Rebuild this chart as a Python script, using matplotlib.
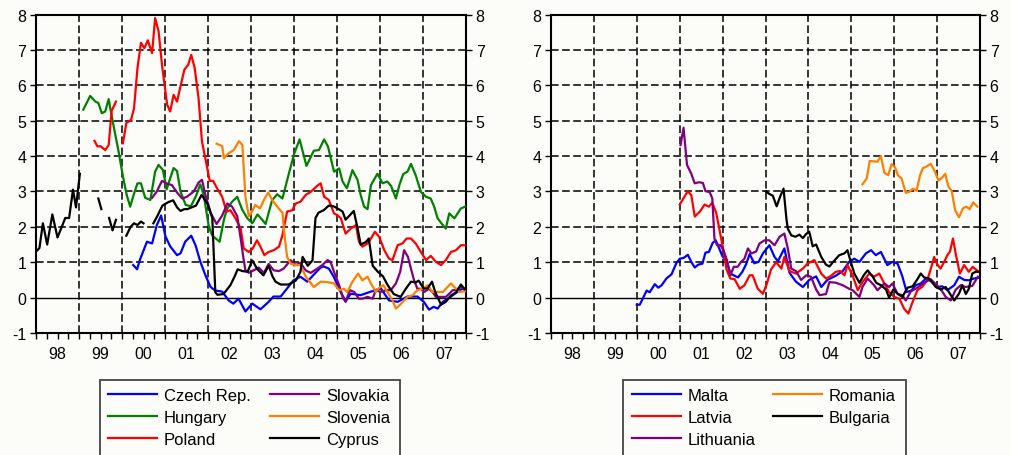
import numpy as np
import matplotlib
matplotlib.use('Agg')
import matplotlib.pyplot as plt
from matplotlib.lines import Line2D
from matplotlib.patches import Rectangle

plt.rcParams['font.family'] = ['Liberation Sans', 'DejaVu Sans']
plt.rcParams['lines.scale_dashes'] = False
plt.rcParams['axes.unicode_minus'] = False

nan = np.nan

# ---------------- left panel data ----------------
czech_x = [2000.26, 2000.35, 2000.42, 2000.50, 2000.58, 2000.70, 2000.81, 2000.91, 2001.01, 2001.12,
           2001.28, 2001.36, 2001.47, 2001.61, 2001.71, 2001.82, 2001.94, 2002.06, 2002.17, 2002.33,
           2002.48, 2002.59, 2002.71, 2002.87, 2003.03, 2003.22, 2003.41, 2003.52, 2003.69, 2003.84,
           2003.99, 2004.15, 2004.31, 2004.46, 2004.62, 2004.69, 2004.81, 2004.92, 2005.08, 2005.20,
           2005.32, 2005.55, 2005.79, 2006.02, 2006.21, 2006.41, 2006.64, 2006.87, 2007.02, 2007.14,
           2007.25, 2007.34, 2007.46, 2007.65, 2007.81, 2007.92, 2008.00]
czech_y = [0.92, 0.80, 1.08, 1.33, 1.58, 1.53, 2.05, 2.32, 1.73, 1.45,
           1.20, 1.25, 1.58, 1.75, 1.48, 1.02, 0.63, 0.30, 0.20, 0.17,
           -0.08, -0.17, -0.03, -0.39, -0.17, -0.33, -0.12, 0.03, 0.03, 0.26,
           0.49, 0.59, 0.45, 0.65, 0.85, 0.88, 0.82, 0.60, 0.17, -0.10,
           0.11, 0.07, 0.17, 0.26, -0.08, -0.12, 0.03, 0.03, -0.12, -0.34,
           -0.26, -0.31, -0.12, 0.03, 0.17, 0.26, 0.18]

hungary_x = [1999.10, 1999.26, 1999.38, 1999.45, 1999.53, 1999.61, 1999.69, 1999.75, 1999.80, 1999.92,
             2000.03, 2000.11, 2000.19, 2000.27, 2000.36, 2000.44, 2000.54, 2000.66, 2000.77, 2000.85,
             2000.95, 2001.04, 2001.12, 2001.20, 2001.28, 2001.36, 2001.48, 2001.60, 2001.72, 2001.82,
             2001.90, 2002.02, 2002.10, 2002.27, 2002.37, 2002.44, 2002.56, 2002.68, 2002.79, 2002.91,
             2003.03, 2003.15, 2003.26, 2003.34, 2003.49, 2003.61, 2003.73, 2003.88, 2004.00, 2004.13,
             2004.29, 2004.46, 2004.58, 2004.70, 2004.79, 2004.93, 2005.05, 2005.13, 2005.23, 2005.36,
             2005.48, 2005.55, 2005.63, 2005.71, 2005.79, 2005.94, 2006.06, 2006.17, 2006.26, 2006.37,
             2006.45, 2006.54, 2006.64, 2006.72, 2006.83, 2006.95, 2007.07, 2007.18, 2007.26, 2007.34,
             2007.46, 2007.53, 2007.61, 2007.73, 2007.88, 2007.98]
hungary_y = [5.31, 5.70, 5.54, 5.50, 5.21, 5.26, 5.61, 5.20, 4.88, 4.13,
             3.37, 2.90, 2.57, 2.90, 3.23, 3.23, 2.82, 2.76, 3.56, 3.75,
             3.61, 3.06, 3.37, 3.66, 3.58, 3.00, 2.62, 2.58, 2.87, 3.20,
             2.90, 2.00, 1.75, 1.58, 2.20, 2.50, 2.71, 2.85, 2.50, 2.25,
             2.10, 2.35, 2.20, 2.08, 2.75, 2.92, 2.80, 3.50, 4.05, 4.47,
             3.72, 4.15, 4.17, 4.47, 4.27, 3.56, 3.65, 3.28, 3.09, 3.60,
             3.32, 2.90, 2.57, 2.50, 3.18, 3.50, 3.23, 3.28, 3.15, 2.80,
             3.18, 3.49, 3.56, 3.78, 3.46, 2.99, 2.85, 2.80, 2.57, 2.24,
             2.05, 1.95, 2.38, 2.24, 2.52, 2.57]

poland_x = [1999.36, 1999.43, 1999.50, 1999.61, 1999.69, 1999.76, 1999.86, 1999.94,
            2000.02, 2000.10, 2000.21, 2000.28, 2000.36, 2000.44, 2000.52, 2000.60, 2000.70, 2000.77,
            2000.85, 2000.93, 2001.05, 2001.12, 2001.20, 2001.28, 2001.36, 2001.45, 2001.54, 2001.61,
            2001.69, 2001.78, 2001.86, 2001.96, 2002.04, 2002.12, 2002.21, 2002.33, 2002.43, 2002.52,
            2002.64, 2002.76, 2002.83, 2002.95, 2003.03, 2003.14, 2003.22, 2003.31, 2003.41, 2003.53,
            2003.65, 2003.73, 2003.84, 2003.96, 2004.04, 2004.15, 2004.27, 2004.39, 2004.54, 2004.62,
            2004.70, 2004.81, 2004.93, 2005.01, 2005.09, 2005.20, 2005.32, 2005.44, 2005.51, 2005.59,
            2005.71, 2005.79, 2005.88, 2005.98, 2006.10, 2006.21, 2006.29, 2006.41, 2006.52, 2006.62,
            2006.72, 2006.83, 2006.95, 2007.07, 2007.18, 2007.30, 2007.42, 2007.53, 2007.65, 2007.77,
            2007.88, 2007.98]
poland_y = [4.43, 4.27, 4.28, 4.17, 4.31, 5.28, 5.54, nan,
            4.36, 4.93, 5.02, 5.35, 6.49, 7.20, 7.05, 7.27, 6.91, 7.90,
            7.53, 6.58, 5.45, 5.26, 5.73, 5.54, 5.97, 6.44, 6.58, 6.86,
            6.49, 5.64, 4.41, 3.80, 3.30, 3.30, 3.09, 2.85, 2.43, 2.47,
            2.24, 1.95, 1.39, 1.29, 1.37, 1.62, 1.44, 1.20, 1.29, 1.34,
            1.44, 1.76, 2.43, 2.47, 2.66, 2.71, 2.90, 2.99, 3.16, 3.23,
            2.85, 2.76, 2.38, 2.33, 2.24, 1.81, 1.95, 2.05, 1.58, 1.44,
            1.53, 1.67, 1.86, 1.72, 1.34, 1.10, 1.06, 1.48, 1.53, 1.67,
            1.67, 1.53, 1.29, 1.06, 1.18, 1.01, 0.92, 1.06, 1.29, 1.34,
            1.48, 1.48]

slovakia_x = [2000.70, 2000.81, 2000.93, 2001.05, 2001.16, 2001.28, 2001.40, 2001.51, 2001.67, 2001.78,
              2001.86, 2001.94, 2002.06, 2002.20, 2002.33, 2002.45, 2002.56, 2002.68, 2002.76, 2002.82,
              2002.87, 2002.95, 2003.06, 2003.18, 2003.30, 2003.41, 2003.53, 2003.65, 2003.76, 2003.92,
              2004.04, 2004.15, 2004.27, 2004.39, 2004.54, 2004.66, 2004.78, 2004.85, 2004.93, 2005.05,
              2005.13, 2005.20, 2005.30, 2005.40, 2005.51, 2005.59, 2005.71, 2005.83, 2005.90, 2006.02,
              2006.14, 2006.25, 2006.37, 2006.47, 2006.56, 2006.65, 2006.72, 2006.79, 2006.87, 2006.95,
              2007.03, 2007.14, 2007.22, 2007.30, 2007.42, 2007.53, 2007.61, 2007.69, 2007.77, 2007.87,
              2007.96]
slovakia_y = [2.82, 3.00, 3.30, 3.22, 3.18, 2.97, 2.80, 2.85, 3.00, 3.25,
              3.33, 2.90, 2.40, 2.08, 2.32, 2.66, 2.57, 2.30, 1.67, 1.15,
              0.77, 0.70, 0.77, 0.85, 0.70, 0.95, 0.77, 0.75, 0.82, 1.06,
              0.92, 0.98, 0.77, 0.70, 0.82, 0.92, 1.06, 1.01, 0.73, 0.35,
              0.02, -0.12, 0.21, 0.16, -0.03, -0.03, 0.02, -0.03, 0.21, 0.16,
              0.21, 0.21, 0.40, 0.73, 1.34, 1.15, 0.82, 0.50, 0.25, 0.25,
              0.16, 0.25, 0.16, 0.02, 0.02, 0.02, 0.11, 0.21, 0.21, 0.30,
              0.25]

slovenia_x = [2002.20, 2002.33, 2002.37, 2002.48, 2002.60, 2002.72, 2002.80, 2002.87, 2002.95, 2003.03,
              2003.10, 2003.21, 2003.30, 2003.40, 2003.49, 2003.61, 2003.73, 2003.78, 2003.84, 2003.92,
              2004.04, 2004.15, 2004.27, 2004.46, 2004.62, 2004.78, 2004.93, 2005.05, 2005.16, 2005.24,
              2005.36, 2005.49, 2005.59, 2005.71, 2005.79, 2005.90, 2006.00, 2006.08, 2006.17, 2006.29,
              2006.37, 2006.45, 2006.56, 2006.64, 2006.76, 2006.87, 2006.99, 2007.11, 2007.22, 2007.34,
              2007.46, 2007.65, 2007.73, 2007.84, 2008.00]
slovenia_y = [4.35, 4.28, 3.94, 4.08, 4.17, 4.42, 4.31, 2.85, 2.30, 2.45,
              2.62, 2.52, 2.76, 2.97, 2.76, 2.57, 2.40, 1.76, 1.15, 0.96,
              0.92, 0.92, 0.60, 0.30, 0.45, 0.44, 0.40, 0.21, 0.25, 0.16,
              0.45, 0.68, 0.49, 0.59, 0.40, 0.16, 0.30, 0.35, 0.16, -0.08,
              -0.31, -0.22, -0.08, 0.02, 0.07, 0.21, 0.25, 0.35, 0.16, 0.16,
              0.16, 0.40, 0.30, 0.16, 0.18]

cyprus_x = [1998.00, 1998.08, 1998.16, 1998.26, 1998.38, 1998.50, 1998.60, 1998.68, 1998.77, 1998.86,
            1998.93, 1999.02, 1999.20, 1999.45, 1999.52, 1999.60, 1999.70, 1999.78, 1999.86, 2000.00,
            2000.10, 2000.20, 2000.28, 2000.36, 2000.44, 2000.50, 2000.60,
            2000.73, 2000.82, 2000.94, 2001.08, 2001.19, 2001.28, 2001.36, 2001.45, 2001.52, 2001.62,
            2001.72, 2001.85, 2001.99, 2002.10, 2002.17, 2002.22, 2002.36, 2002.52, 2002.62, 2002.69,
            2002.80, 2002.92, 2003.03, 2003.15, 2003.29, 2003.41, 2003.50, 2003.57, 2003.69, 2003.87,
            2004.04, 2004.15, 2004.20, 2004.32, 2004.43, 2004.50, 2004.57, 2004.69, 2004.81, 2004.92,
            2005.04, 2005.13, 2005.20, 2005.30, 2005.39, 2005.48, 2005.55, 2005.67, 2005.74, 2005.83,
            2005.95, 2006.07, 2006.18, 2006.32, 2006.48, 2006.60, 2006.72, 2006.83, 2006.90, 2007.02,
            2007.11, 2007.21, 2007.28, 2007.42, 2007.53, 2007.65, 2007.77, 2007.88, 2007.97]
cyprus_y = [1.30, 1.40, 2.10, 1.50, 2.35, 1.70, 2.00, 2.25, 2.25, 3.05,
            2.55, 3.50, nan, 2.80, 2.50, nan, 2.25, 1.90, 2.20, nan,
            1.75, 2.00, 2.10, 2.05, 2.15, 2.10, nan,
            2.10, 2.30, 2.60, 2.70, 2.75, 2.55, 2.45, 2.50, 2.50, 2.55,
            2.60, 2.90, 2.65, 2.25, 0.15, 0.08, 0.10, 0.35, 0.60, 0.80,
            0.75, 0.73, 1.05, 0.80, 0.63, 0.90, 0.60, 0.45, 0.37, 0.37,
            0.48, 0.73, 1.15, 0.90, 1.05, 2.25, 2.40, 2.47, 2.60, 2.58,
            2.50, 2.43, 2.20, 2.33, 2.45, 1.95, 1.50, 1.57, 1.67, 0.90,
            0.73, 0.60, 0.35, 0.10, 0.02, 0.25, 0.45, 0.43, 0.48, 0.25,
            0.27, 0.45, 0.17, -0.20, -0.12, 0.06, 0.15, 0.37, 0.24]

# ---------------- right panel data ----------------
malta_x = [2000.00, 2000.07, 2000.23, 2000.30, 2000.42, 2000.50, 2000.58, 2000.69, 2000.81, 2000.92,
           2001.00, 2001.09, 2001.19, 2001.27, 2001.35, 2001.43, 2001.53, 2001.60, 2001.68, 2001.77,
           2001.84, 2001.91, 2002.00, 2002.09, 2002.18, 2002.26, 2002.36, 2002.46, 2002.55, 2002.63,
           2002.74, 2002.84, 2002.94, 2003.09, 2003.21, 2003.29, 2003.44, 2003.56, 2003.71, 2003.87,
           2004.02, 2004.18, 2004.30, 2004.44, 2004.64, 2004.80, 2004.95, 2005.07, 2005.19, 2005.34,
           2005.46, 2005.57, 2005.69, 2005.84, 2005.96, 2006.08, 2006.19, 2006.29, 2006.40, 2006.50,
           2006.62, 2006.74, 2006.88, 2007.01, 2007.12, 2007.24, 2007.40, 2007.51, 2007.63, 2007.74,
           2007.86, 2007.96]
malta_y = [-0.20, -0.20, 0.20, 0.15, 0.38, 0.28, 0.35, 0.54, 0.66, 0.97,
           1.10, 1.12, 1.21, 1.01, 0.85, 0.93, 0.96, 1.27, 1.29, 1.55,
           1.62, 1.42, 1.16, 1.06, 0.68, 0.63, 0.57, 0.73, 0.95, 1.23,
           0.97, 1.01, 1.25, 1.48, 1.15, 1.03, 1.39, 0.70, 0.45, 0.30,
           0.50, 0.60, 0.30, 0.50, 0.62, 0.75, 1.01, 1.10, 1.01, 1.25,
           1.34, 1.20, 1.29, 0.92, 1.01, 0.96, 0.60, 0.16, 0.20, 0.35,
           0.40, 0.54, 0.45, 0.30, 0.32, 0.21, 0.35, 0.59, 0.50, 0.49,
           0.54, 0.56]

latvia_x = [2001.00, 2001.16, 2001.19, 2001.27, 2001.35, 2001.47, 2001.58, 2001.68, 2001.76, 2001.85,
            2001.93, 2002.01, 2002.09, 2002.18, 2002.28, 2002.40, 2002.51, 2002.63, 2002.70, 2002.82,
            2002.94, 2003.02, 2003.13, 2003.25, 2003.37, 2003.44, 2003.56, 2003.71, 2003.87, 2003.98,
            2004.14, 2004.30, 2004.41, 2004.51, 2004.64, 2004.74, 2004.84, 2004.91, 2005.03, 2005.15,
            2005.26, 2005.42, 2005.53, 2005.65, 2005.77, 2005.88, 2006.00, 2006.12, 2006.23, 2006.33,
            2006.43, 2006.54, 2006.65, 2006.77, 2006.85, 2006.93, 2007.00, 2007.08, 2007.16, 2007.24,
            2007.30, 2007.37, 2007.44, 2007.53, 2007.63, 2007.74, 2007.83, 2007.95]
latvia_y = [2.63, 2.95, 3.00, 2.90, 2.29, 2.43, 2.63, 2.57, 2.68, 2.40,
            1.90, 1.40, 0.80, 0.54, 0.52, 0.25, 0.35, 0.63, 0.63, 0.25,
            0.11, 0.35, 0.80, 1.00, 0.82, 1.15, 0.75, 0.68, 0.82, 0.96,
            1.06, 0.68, 0.54, 0.60, 0.73, 0.75, 0.63, 0.92, 0.63, 0.21,
            0.44, 0.68, 0.59, 0.68, 0.40, 0.16, 0.02, -0.03, -0.31, -0.45,
            -0.12, 0.21, 0.30, 0.49, 0.80, 1.15, 0.95, 0.82, 1.00, 1.20,
            1.30, 1.67, 1.20, 0.68, 0.92, 0.73, 0.87, 0.75]

lithuania_x = [2001.02, 2001.09, 2001.17, 2001.27, 2001.35, 2001.45, 2001.54, 2001.60, 2001.70, 2001.76,
               2001.81, 2001.87, 2001.95, 2002.02, 2002.10, 2002.18, 2002.26, 2002.35, 2002.43, 2002.51,
               2002.59, 2002.67, 2002.78, 2002.86, 2002.98, 2003.09, 2003.21, 2003.33, 2003.44, 2003.52,
               2003.60, 2003.71, 2003.83, 2003.95, 2004.06, 2004.18, 2004.26, 2004.41, 2004.49, 2004.64,
               2004.80, 2004.95, 2005.03, 2005.19, 2005.26, 2005.38, 2005.53, 2005.61, 2005.77, 2005.88,
               2005.96, 2006.08, 2006.19, 2006.27, 2006.39, 2006.50, 2006.62, 2006.74, 2006.85, 2006.97,
               2007.09, 2007.20, 2007.32, 2007.43, 2007.55, 2007.66, 2007.82, 2007.95]
lithuania_y = [4.31, 4.80, 3.75, 3.50, 3.23, 3.26, 3.24, 3.01, 2.98, 2.80,
               1.67, 1.48, 1.48, 1.34, 1.06, 0.63, 0.87, 0.87, 1.01, 1.10,
               1.39, 1.25, 1.30, 1.53, 1.62, 1.62, 1.48, 1.72, 1.81, 1.39,
               0.82, 0.75, 0.50, 0.63, 0.59, 0.23, 0.07, 0.10, 0.44, 0.42,
               0.35, 0.25, 0.21, 0.02, 0.30, 0.54, 0.35, 0.21, 0.40, 0.30,
               0.40, 0.10, 0.07, -0.08, 0.18, 0.25, 0.35, 0.45, 0.52, 0.38,
               0.23, 0.02, -0.08, 0.22, 0.35, 0.30, 0.33, 0.59]

romania_x = [2005.26, 2005.36, 2005.43, 2005.53, 2005.61, 2005.69, 2005.77, 2005.86, 2005.94, 2006.02,
             2006.09, 2006.17, 2006.27, 2006.35, 2006.44, 2006.52, 2006.60, 2006.67, 2006.75, 2006.85,
             2006.95, 2007.03, 2007.11, 2007.19, 2007.26, 2007.34, 2007.42, 2007.51, 2007.60, 2007.68,
             2007.76, 2007.84, 2007.94]
romania_y = [3.20, 3.37, 3.86, 3.85, 3.84, 4.00, 3.53, 3.46, 3.77, 3.68,
             3.45, 3.37, 2.96, 2.99, 3.08, 3.02, 3.45, 3.66, 3.70, 3.78,
             3.56, 3.31, 3.38, 3.50, 3.15, 3.01, 2.47, 2.27, 2.52, 2.57,
             2.50, 2.69, 2.57]

bulgaria_x = [2003.01, 2003.09, 2003.17, 2003.26, 2003.34, 2003.42, 2003.49, 2003.52, 2003.60, 2003.70,
              2003.79, 2003.87, 2003.95, 2004.02, 2004.10, 2004.18, 2004.30, 2004.41, 2004.49, 2004.60,
              2004.72, 2004.84, 2004.91, 2004.99, 2005.07, 2005.19, 2005.30, 2005.38, 2005.50, 2005.58,
              2005.69, 2005.81, 2005.88, 2005.98, 2006.08, 2006.19, 2006.31, 2006.43, 2006.53, 2006.62,
              2006.70, 2006.81, 2006.97, 2007.09, 2007.20, 2007.32, 2007.40, 2007.51, 2007.59, 2007.67,
              2007.74, 2007.82, 2007.90, 2007.97]
bulgaria_y = [3.00, 2.93, 2.88, 2.58, 2.85, 3.08, 2.20, 1.95, 1.76, 1.72,
              1.78, 1.68, 1.80, 1.86, 1.45, 1.50, 1.15, 0.93, 0.88, 1.04,
              1.20, 1.25, 1.34, 1.00, 0.68, 0.42, 0.65, 0.77, 0.59, 0.42,
              0.35, 0.23, 0.00, 0.23, 0.11, 0.02, 0.28, 0.32, 0.50, 0.68,
              0.57, 0.54, 0.30, 0.23, 0.30, 0.07, -0.08, 0.11, 0.35, 0.10,
              0.25, 0.68, 0.73, 0.73]

year_labels = ['98', '99', '00', '01', '02', '03', '04', '05', '06', '07']

left_series = [('Czech Rep.', czech_x, czech_y, '#0000ff'),
               ('Hungary', hungary_x, hungary_y, '#008000'),
               ('Poland', poland_x, poland_y, '#ff0000'),
               ('Slovakia', slovakia_x, slovakia_y, '#800080'),
               ('Slovenia', slovenia_x, slovenia_y, '#ff8000'),
               ('Cyprus', cyprus_x, cyprus_y, '#000000')]
right_series = [('Malta', malta_x, malta_y, '#0000ff'),
                ('Latvia', latvia_x, latvia_y, '#ff0000'),
                ('Lithuania', lithuania_x, lithuania_y, '#800080'),
                ('Romania', romania_x, romania_y, '#ff8000'),
                ('Bulgaria', bulgaria_x, bulgaria_y, '#000000')]

BG = '#fcfcf8'
W, H = 1012, 456
fig = plt.figure(figsize=(W / 100, H / 100), dpi=100, facecolor=BG)
ax1 = fig.add_axes([36 / W, 122 / H, 430 / W, 318.5 / H])
ax2 = fig.add_axes([551 / W, 122 / H, 429 / W, 318.5 / H])

DASH = (0, (5.5, 2.5))


def style(ax):
    ax.set_facecolor(BG)
    ax.set_xlim(1998, 2008)
    ax.set_ylim(-1, 8)
    for yv in range(1, 8):
        ax.axhline(yv, color='black', lw=1.1, ls=DASH, zorder=1)
    ax.axhline(0, color='black', lw=1.0, zorder=1)
    for xv in range(1999, 2008):
        ax.axvline(xv, color='black', lw=1.1, ls=DASH, zorder=1)
    ax.set_yticks(range(-1, 9))
    ax.tick_params(axis='y', which='both', left=True, right=True, labelleft=True,
                   labelright=True, direction='out', length=4.5, width=1.0,
                   labelsize=11.5, pad=2.5)
    ax.set_xticks([1998.5 + i for i in range(10)], labels=year_labels)
    ax.set_xticks([1998 + q / 4 for q in range(41)], minor=True)
    ax.tick_params(axis='x', which='both', direction='out', length=4.5, width=1.0,
                   labelsize=11.5, pad=5)
    for s in ax.spines.values():
        s.set_linewidth(1.5)


def draw(ax, series):
    handles = []
    for name, xs, ys, c in series:
        ax.plot(xs, ys, color=c, lw=1.6, label=name, zorder=3, solid_joinstyle='round')
        handles.append(Line2D([], [], color=c, lw=1.6, label=name))
    return handles


style(ax1)
style(ax2)
h1 = draw(ax1, left_series)
h2 = draw(ax2, right_series)

# legend frames (bottom edge runs off the figure, as in the reference)
for (x0, x1) in [(100, 400), (623, 906)]:
    fig.patches.append(Rectangle((x0 / W, -0.1), (x1 - x0) / W, (H - 381) / H + 0.1,
                                 transform=fig.transFigure, facecolor='none',
                                 edgecolor='#444444', lw=1.3, zorder=5))

fs = 12
hl = 49 / (fs * 100 / 72)
tp = 7 / (fs * 100 / 72)
top = 1 - 389 / H
for hs, xpix in [(h1[:3], 108), (h1[3:], 270), (h2[:3], 632), (h2[3:], 773)]:
    fig.legend(handles=hs, loc='upper left', bbox_to_anchor=(xpix / W, top),
               frameon=False, fontsize=fs, handlelength=hl, handletextpad=tp,
               borderpad=0, borderaxespad=0, labelspacing=0.42)

fig.savefig('out.png', dpi=100, facecolor=BG)
